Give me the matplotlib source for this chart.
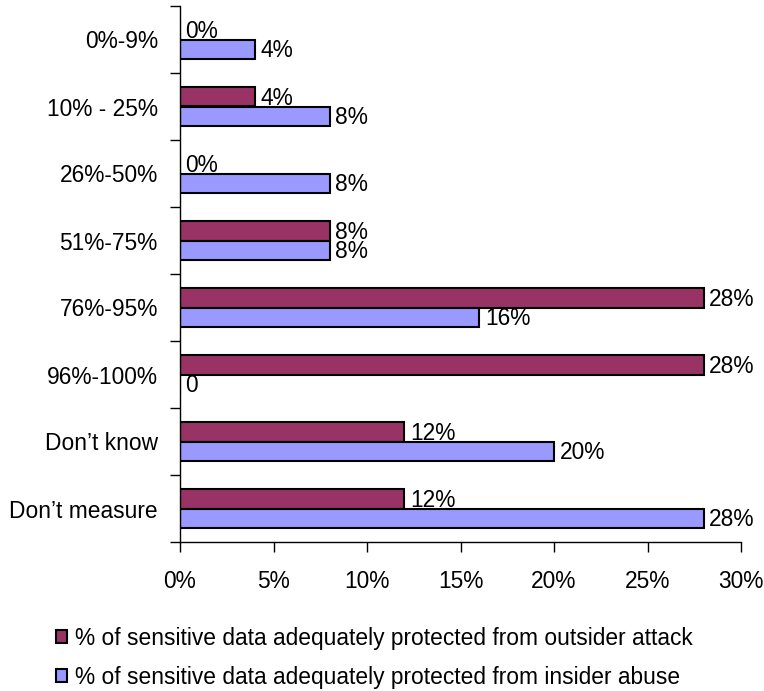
import matplotlib.pyplot as plt
from matplotlib.patches import Patch
from matplotlib.ticker import FuncFormatter, FixedLocator

plt.rcParams['font.family'] = ['Liberation Sans', 'DejaVu Sans']

categories = ['0%-9%', '10% - 25%', '26%-50%', '51%-75%', '76%-95%',
              '96%-100%', "Don\u2019t know", "Don\u2019t measure"]
outsider = [0, 4, 0, 8, 28, 28, 12, 12]
insider = [4, 8, 8, 8, 16, 0, 20, 28]
x_ticks = [0, 5, 10, 15, 20, 25, 30]

outsider_labels = [f"{v}%" for v in outsider]
insider_labels = [f"{v}%" for v in insider]
insider_labels[5] = "0"

outsider_name = '% of sensitive data adequately protected from outsider attack'
insider_name = '% of sensitive data adequately protected from insider abuse'

maroon = '#993366'
lavender = '#9999FF'
fs = 16.4

fig = plt.figure(figsize=(7.64, 6.91), dpi=100)
ax = fig.add_axes([180 / 764, 1 - 542 / 691, 561 / 764, 536 / 691])

h = 0.29
centers = [i + 0.5 for i in range(len(categories))]
ax.barh([c - h / 2 for c in centers], outsider, height=h, color=maroon,
        edgecolor='black', linewidth=1.5)
ax.barh([c + h / 2 for c in centers], insider, height=h, color=lavender,
        edgecolor='black', linewidth=1.5)

for c, v, lab in zip(centers, outsider, outsider_labels):
    ax.annotate(lab, (v, c - h / 2), xytext=(4, -1), textcoords='offset points',
                ha='left', va='center', fontsize=fs)
for c, v, lab in zip(centers, insider, insider_labels):
    ax.annotate(lab, (v, c + h / 2), xytext=(4, -1), textcoords='offset points',
                ha='left', va='center', fontsize=fs)

ax.set_xlim(0, 30)
ax.set_ylim(len(categories), 0)
ax.set_xticks(x_ticks)
ax.xaxis.set_major_formatter(FuncFormatter(lambda v, p: f"{v:.0f}%"))
ax.set_yticks(centers)
ax.set_yticklabels(categories)
ax.yaxis.set_minor_locator(FixedLocator(range(len(categories) + 1)))
ax.tick_params(axis='y', which='major', length=0, pad=16, labelsize=fs)
ax.tick_params(axis='y', which='minor', length=7, width=1, direction='out')
ax.tick_params(axis='x', length=7, width=1, direction='out', pad=13, labelsize=fs)

for s in ['top', 'right']:
    ax.spines[s].set_visible(False)
for s in ['left', 'bottom']:
    ax.spines[s].set_linewidth(1)

handles = [Patch(facecolor=maroon, edgecolor='black', linewidth=1.5, label=outsider_name),
           Patch(facecolor=lavender, edgecolor='black', linewidth=1.5, label=insider_name)]
fig.legend(handles=handles, loc='upper left', bbox_to_anchor=(56 / 764, 1 - 627 / 691),
           frameon=False, fontsize=fs, handlelength=0.5, handleheight=0.5,
           handletextpad=0.35, borderpad=0, borderaxespad=0, labelspacing=0.7)

fig.savefig('out.png', dpi=100)
